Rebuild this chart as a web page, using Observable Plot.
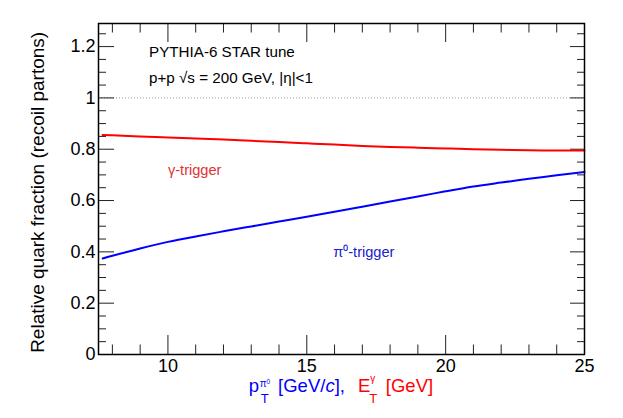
<!DOCTYPE html>
<html>
<head>
<meta charset="utf-8">
<script src="https://cdn.jsdelivr.net/npm/d3@7"></script>
<script src="https://cdn.jsdelivr.net/npm/@observablehq/plot@0.6"></script>
<style>
  html, body { margin: 0; padding: 0; background: #fff; }
  svg { font-family: "Liberation Sans", Arial, Helvetica, sans-serif; }
</style>
</head>
<body>
<div id="chart"></div>
<script>
// ---- data ----
const pt = [7.65, 8, 9, 10, 11, 12, 13, 14, 15, 16, 17, 18, 19, 20, 21, 22, 23, 24, 25];
const quarkGamma = [0.855, 0.854, 0.850, 0.846, 0.842, 0.838, 0.833, 0.828, 0.823, 0.818, 0.813, 0.809, 0.806, 0.803, 0.800, 0.798, 0.796, 0.795, 0.795];
const quarkPi0   = [0.374, 0.385, 0.413, 0.439, 0.460, 0.480, 0.499, 0.518, 0.537, 0.556, 0.576, 0.596, 0.616, 0.636, 0.655, 0.670, 0.685, 0.699, 0.711];

const xMajor = [10, 15, 20, 25];
const xMinor = [8, 9, 11, 12, 13, 14, 16, 17, 18, 19, 21, 22, 23, 24];
const yMajor = [0, 0.2, 0.4, 0.6, 0.8, 1.0, 1.2];
const yMinor = [0.05, 0.1, 0.15, 0.25, 0.3, 0.35, 0.45, 0.5, 0.55, 0.65, 0.7, 0.75, 0.85, 0.9, 0.95, 1.05, 1.1, 1.15, 1.25];
const refLine = [1];

const noteText = ["PYTHIA-6 STAR tune", "p+p √s = 200 GeV, |η|<1"];
const noteX = [9.32, 9.32];
const noteY = [1.178, 1.079];

const seriesLabels = ["γ-trigger", "π⁰-trigger"];
const seriesLabelX = [10.0, 15.95];
const seriesLabelY = [0.718, 0.40];

const yTitle = "Relative quark fraction (recoil partons)";

// ---- tables ----
const gammaData = pt.map((x, i) => ({x, y: quarkGamma[i]}));
const pi0Data = pt.map((x, i) => ({x, y: quarkPi0[i]}));
const notes = noteText.map((t, i) => ({t, x: noteX[i], y: noteY[i]}));
const sLabels = seriesLabels.map((t, i) => ({t, x: seriesLabelX[i], y: seriesLabelY[i]}));

const W = 623, H = 418;
const mL = 98, mR = 39, mT = 23, mB = 64;
const iw = W - mL - mR, ih = H - mT - mB;
const FONT = '"Liberation Sans", Arial, sans-serif';

const plot = Plot.plot({
  width: W, height: H,
  marginLeft: mL, marginRight: mR, marginTop: mT, marginBottom: mB,
  style: {background: "white", color: "black", fontFamily: FONT},
  x: {domain: [7.5, 25]},
  y: {domain: [0, 1.29]},
  marks: [
    Plot.ruleY(refLine, {stroke: "#9a9a9a", strokeDasharray: "1,2", strokeWidth: 1}),
    // inward ticks (bottom/top)
    Plot.tickX(xMajor, {x: d => d, insetTop: ih - 19, stroke: "#222", strokeWidth: 1}),
    Plot.tickX(xMinor, {x: d => d, insetTop: ih - 9.5, stroke: "#222", strokeWidth: 1}),
    Plot.tickX(xMajor, {x: d => d, insetBottom: ih - 19, stroke: "#222", strokeWidth: 1}),
    Plot.tickX(xMinor, {x: d => d, insetBottom: ih - 9.5, stroke: "#222", strokeWidth: 1}),
    // inward ticks (left/right)
    Plot.tickY(yMajor, {y: d => d, insetRight: iw - 16, stroke: "#222", strokeWidth: 1}),
    Plot.tickY(yMinor, {y: d => d, insetRight: iw - 8, stroke: "#222", strokeWidth: 1}),
    Plot.tickY(yMajor, {y: d => d, insetLeft: iw - 14, stroke: "#222", strokeWidth: 1}),
    Plot.tickY(yMinor, {y: d => d, insetLeft: iw - 7, stroke: "#222", strokeWidth: 1}),
    Plot.line(gammaData, {x: "x", y: "y", stroke: "#ff0000", strokeWidth: 2, curve: "natural"}),
    Plot.line(pi0Data, {x: "x", y: "y", stroke: "#0000ff", strokeWidth: 2, curve: "natural"}),
    Plot.text(notes, {x: "x", y: "y", text: "t", textAnchor: "start", fontSize: 15.2, fill: "black"}),
    Plot.text(sLabels, {x: "x", y: "y", text: "t", textAnchor: "start", fontSize: 14.6, fill: (d, i) => i === 0 ? "#dd3333" : "#2020cc"}),
    Plot.frame({stroke: "black", strokeWidth: 1.5}),
    Plot.axisX(xMajor, {tickSize: 0, tickPadding: 5, fontSize: 18, tickFormat: d => String(d), label: null}),
    Plot.axisY(yMajor, {tickSize: 0, tickPadding: 3, fontSize: 18, tickFormat: d => String(+d.toFixed(1)), label: null})
  ]
});

const svgEl = plot.tagName.toLowerCase() === "svg" ? plot : plot.querySelector("svg");
const svg = d3.select(svgEl);
const xs = plot.scale("x"), ys = plot.scale("y");

// y-axis title
const cy = ys.apply(0.63);
svg.append("text")
  .attr("transform", `translate(43.5,${cy}) rotate(-90)`)
  .attr("text-anchor", "middle")
  .attr("font-size", 19)
  .attr("font-family", FONT)
  .attr("fill", "black")
  .text(yTitle);

// x-axis title with sub/superscripts and two colours
const cx = xs.apply((xs.domain[0] + xs.domain[1]) / 2);
svg.append("text")
  .attr("x", cx).attr("y", 391.5)
  .attr("text-anchor", "middle")
  .attr("font-size", 18.5)
  .attr("font-family", FONT)
  .html(
    '<tspan fill="#0000ff">p</tspan>' +
    '<tspan fill="#0000ff" font-size="10" dx="0.5" dy="-5">π</tspan>' +
    '<tspan fill="#0000ff" font-size="6.5" dy="-3">0</tspan>' +
    '<tspan fill="#0000ff" font-size="13" dx="-9.4" dy="19">T</tspan>' +
    '<tspan fill="#0000ff" dx="4.2" dy="-11"> [GeV/</tspan>' +
    '<tspan fill="#0000ff" font-style="italic">c</tspan>' +
    '<tspan fill="#0000ff">],</tspan>' +
    '<tspan fill="#ff0000" dx="13">E</tspan>' +
    '<tspan fill="#ff0000" font-size="10" dx="0" dy="-10">γ</tspan>' +
    '<tspan fill="#ff0000" font-size="13" dx="-6" dy="21">T</tspan>' +
    '<tspan fill="#ff0000" dx="3.5" dy="-11"> [GeV]</tspan>'
  );

document.getElementById("chart").appendChild(plot);
</script>
</body>
</html>
